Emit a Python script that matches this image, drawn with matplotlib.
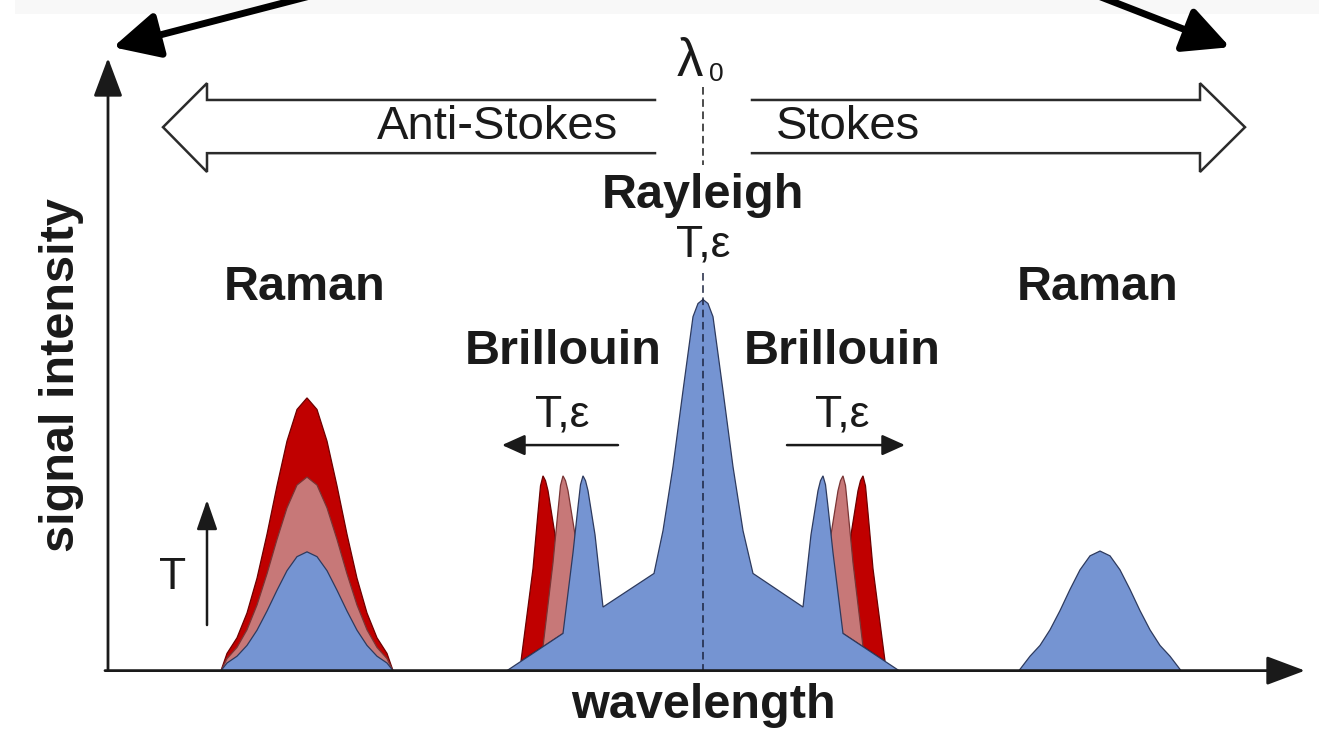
import matplotlib.pyplot as plt
from matplotlib.patches import Rectangle

plt.rcParams["font.family"] = ["Liberation Sans", "DejaVu Sans"]

# x: wavelength offset from lambda_0 (arb. units), y: signal intensity (arb. units)

# anti-Stokes Raman peak at three temperatures
raman_as_x = [-48.2, -47.6, -46.6, -45.6, -44.6, -43.6, -42.6, -41.6, -40.6, -39.6,
              -38.6, -37.6, -36.6, -35.6, -34.6, -33.6, -32.6, -31.6, -31.0]
raman_as_hot = [0, 4.3, 8.2, 14.4, 23.1, 34.1, 46.2, 57.4, 65.3, 68.2,
                65.3, 57.4, 46.2, 34.1, 23.1, 14.4, 8.2, 4.3, 0]
raman_as_mid = [0, 3.0, 5.8, 10.2, 16.4, 24.2, 32.8, 40.7, 46.4, 48.4,
                46.4, 40.7, 32.8, 24.2, 16.4, 10.2, 5.8, 3.0, 0]
raman_as_ref = [0, 1.9, 3.6, 6.3, 10.1, 14.9, 20.1, 25.0, 28.5, 29.7,
                28.5, 25.0, 20.1, 14.9, 10.1, 6.3, 3.6, 1.9, 0]

# Stokes Raman peak
raman_s_x = [31.6, 32.7, 33.7, 34.7, 35.7, 36.7, 37.7, 38.7, 39.7,
             40.7, 41.7, 42.7, 43.7, 44.7, 45.7, 46.7, 47.8]
raman_s_ref = [0, 3.6, 6.3, 10.2, 15.0, 20.3, 25.2, 28.7, 29.9,
               28.7, 25.2, 20.3, 15.0, 10.2, 6.3, 3.6, 0]

# Rayleigh peak on its pedestal, with the reference Brillouin peaks
central_x = [-19.6, -14.0, -13.0, -12.5, -12.25, -12.0, -11.75, -11.5, -10.8, -10.0,
             -4.9, -4.0, -3.0, -2.0, -1.0, -0.5, 0.0, 0.5, 1.0, 2.0, 3.0, 4.0, 5.0,
             10.0, 10.8, 11.5, 11.75, 12.0, 12.25, 12.5, 13.0, 14.0, 19.6]
central_y = [0, 9.3, 29.5, 41.0, 46.5, 48.7, 47.5, 45.0, 34.0, 15.9,
             24.3, 35.0, 51.0, 70.0, 88.5, 91.8, 92.8, 91.8, 88.5, 70.0, 51.0, 35.0, 24.3,
             15.9, 34.0, 45.0, 47.5, 48.7, 46.5, 41.0, 29.5, 9.3, 0]

# shifted Brillouin peaks (anti-Stokes side / Stokes side)
brill_as_mid_x = [-16.0, -15.0, -14.5, -14.25, -14.0, -13.75, -13.5, -12.8, -12.0]
brill_as_mid_y = [6.0, 27.0, 40.0, 46.3, 48.7, 47.5, 45.0, 34.0, 12.6]
brill_as_hot_x = [-18.2, -17.0, -16.5, -16.25, -16.0, -15.75, -15.5, -14.8, -14.0]
brill_as_hot_y = [2.4, 25.5, 39.5, 46.2, 48.7, 47.5, 45.0, 34.0, 9.3]
brill_s_mid_x = [12.0, 12.8, 13.5, 13.75, 14.0, 14.25, 14.5, 15.0, 16.0]
brill_s_mid_y = [12.6, 34.0, 45.0, 47.5, 48.7, 46.3, 40.0, 27.0, 6.0]
brill_s_hot_x = [14.0, 14.8, 15.5, 15.75, 16.0, 16.25, 16.5, 17.0, 18.2]
brill_s_hot_y = [9.3, 34.0, 45.0, 47.5, 48.7, 46.2, 39.5, 25.5, 2.4]

BLUE, BLUE_EDGE = "#7594d2", "#2d3a5e"
PINK, PINK_EDGE = "#c77878", "#7a3535"
RED, RED_EDGE = "#c00000", "#6e0000"
INK = "#1a1a1a"


def arrow(ax, start, end, lw, ms, hl, hw, color=INK, z=5):
    ax.annotate("", xy=end, xytext=start,
                arrowprops=dict(arrowstyle=f"-|>,head_length={hl},head_width={hw}",
                                lw=lw, color=color, mutation_scale=ms,
                                shrinkA=0, shrinkB=0),
                zorder=z)


fig = plt.figure(figsize=(13.19, 7.35), dpi=100)
ax = fig.add_axes([0, 0, 1, 1])
ax.set_xlim(-70.3, 61.6)
ax.set_ylim(-16.1, 167.7)
ax.axis("off")

ax.add_patch(Rectangle((0.011, 0.981), 0.989, 0.019, transform=ax.transAxes,
                       color="#f8f8f8", lw=0, zorder=0))

# Raman peaks
for ys, fc, ec in [(raman_as_hot, RED, RED_EDGE), (raman_as_mid, PINK, PINK_EDGE),
                   (raman_as_ref, BLUE, BLUE_EDGE)]:
    ax.fill(raman_as_x, ys, facecolor=fc, edgecolor=ec, lw=0.9, zorder=2)
ax.fill(raman_s_x, raman_s_ref, facecolor=BLUE, edgecolor=BLUE_EDGE, lw=0.9, zorder=2)

# Brillouin shifted peaks, then Rayleigh/Brillouin reference on top
ax.fill(brill_as_hot_x, brill_as_hot_y, facecolor=RED, edgecolor=RED_EDGE, lw=0.9, zorder=2)
ax.fill(brill_s_hot_x, brill_s_hot_y, facecolor=RED, edgecolor=RED_EDGE, lw=0.9, zorder=2)
ax.fill(brill_as_mid_x, brill_as_mid_y, facecolor=PINK, edgecolor=PINK_EDGE, lw=0.9, zorder=2)
ax.fill(brill_s_mid_x, brill_s_mid_y, facecolor=PINK, edgecolor=PINK_EDGE, lw=0.9, zorder=2)
ax.fill(central_x, central_y, facecolor=BLUE, edgecolor=BLUE_EDGE, lw=0.9, zorder=2)

# lambda_0 marker
ax.plot([0, 0], [146.0, 126.4], color=INK, lw=1.1, ls=(0, (5, 3)), zorder=4)
ax.plot([0, 0], [99.5, 0], color="#1c2440", lw=1.1, ls=(0, (5, 3)), zorder=4)
ax.text(-1.3, 152.3, "λ", fontsize=38, ha="center", va="center", color=INK)
ax.text(1.3, 149.2, "0", fontsize=19, ha="center", va="center", color=INK)

# axes with arrow tips
arrow(ax, (-59.5, 0), (-59.5, 153.2), 2.0, 20, 1.2, 0.45)
arrow(ax, (-59.8, 0), (60.2, 0), 2.0, 20, 1.2, 0.45)

# open Anti-Stokes / Stokes arrows
as_x = [-4.8, -49.6, -49.6, -54.0, -49.6, -49.6, -4.8]
s_x = [4.9, 49.7, 49.7, 54.2, 49.7, 49.7, 4.9]
band_y = [142.7, 142.7, 146.9, 135.9, 124.7, 129.4, 129.4]
ax.plot(as_x, band_y, color="#2b2b2b", lw=1.8, solid_joinstyle="miter", zorder=3)
ax.plot(s_x, band_y, color="#2b2b2b", lw=1.8, solid_joinstyle="miter", zorder=3)
ax.text(-20.5, 135.9, "Anti-Stokes", fontsize=34, ha="center", va="center", color=INK)
ax.text(14.5, 135.9, "Stokes", fontsize=34, ha="center", va="center", color=INK)

# big black pointer arrows at top
arrow(ax, (-37.3, 170.0), (-59.0, 155.9), 5.0, 40, 0.7, 0.35, color="black")
arrow(ax, (38.2, 170.0), (52.7, 155.9), 5.0, 40, 0.7, 0.35, color="black")

bold = dict(fontsize=35, fontweight="bold", ha="center", va="center", color=INK)
ax.text(0, 118.9, "Rayleigh", **bold)
ax.text(-39.8, 95.9, "Raman", **bold)
ax.text(39.5, 95.9, "Raman", **bold)
ax.text(-14.0, 79.7, "Brillouin", **bold)
ax.text(13.9, 79.7, "Brillouin", **bold)
ax.text(0, -8.6, "wavelength", **bold)
ax.text(-64.1, 73.9, "signal intensity", rotation=90, **bold)

reg = dict(fontsize=32, ha="center", va="center", color=INK)
ax.text(0, 106.4, "T,ε", **reg)
ax.text(-14.1, 64.0, "T,ε", **reg)
ax.text(13.9, 64.0, "T,ε", **reg)
ax.text(-53.0, 23.2, "T", **reg)

arrow(ax, (-8.5, 56.4), (-20.1, 56.4), 1.8, 14, 1.0, 0.45)
arrow(ax, (8.4, 56.4), (20.2, 56.4), 1.8, 14, 1.0, 0.45)
arrow(ax, (-49.6, 11.4), (-49.6, 42.7), 1.8, 14, 1.3, 0.45)

fig.savefig("out.png", dpi=100)
